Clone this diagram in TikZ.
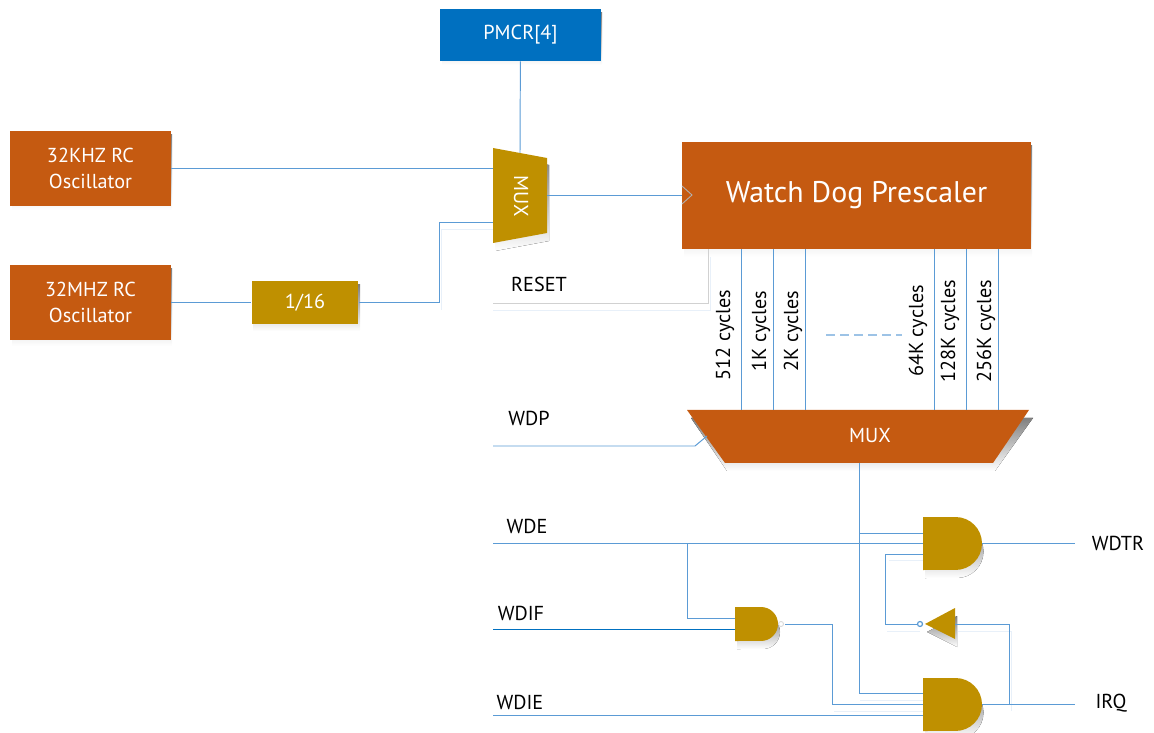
\documentclass[tikz,border=0pt]{standalone}
\usepackage{fontspec}
\setmainfont{PT Sans}
\definecolor{rust}{HTML}{C55A11}
\definecolor{gold}{HTML}{BF9000}
\definecolor{pmcrblue}{HTML}{0070C0}
\definecolor{wireblue}{HTML}{5B9BD5}
\definecolor{shade}{HTML}{DEEAF6}
\tikzset{
  orangebox/.style={fill=rust, text=white, align=center, inner sep=0pt, font=\fontsize{11.5}{15}\selectfont},
  wire/.style={wireblue, line width=0.55pt},
  greywire/.style={black!18, line width=0.55pt},
  faintwire/.style={shade!70, line width=0.55pt},
  label/.style={inner sep=0pt, font=\fontsize{11.5}{14}\selectfont},
  cycle label/.style={label, rotate=90},
}
\begin{document}
\begin{tikzpicture}[x=0.02cm, y=-0.02cm]
\useasboundingbox (0,0) rectangle (1154,733);
% shadows of the boxes
\fill[shade] (12,135) rectangle (172,210);
\fill[shade] (12,269) rectangle (172,346);
\fill[shade] (253,285) rectangle (360,331);
\fill[shade] (442,13) rectangle (602,65);
\fill[shade] (684,146) rectangle (1032,257);
\fill[shade] (495,155) -- (549,165) -- (549,241) -- (495,251) -- cycle;
\fill[shade] (691,418) -- (1033,418) -- (995,471) -- (727,471) -- cycle;
\fill[shade] (925,525) -- (957,525) arc[start angle=90, end angle=-90, radius=0.53cm] -- (925,578) -- cycle;
\fill[shade] (925,686) -- (957,686) arc[start angle=90, end angle=-90, radius=0.53cm] -- (925,739) -- cycle;
\fill[shade] (737,615) -- (763,615) arc[start angle=90, end angle=-90, radius=0.34cm] -- (737,649) -- cycle;
\fill[shade] (957,616) -- (957,647) -- (927,632) -- cycle;
% boxes
\node[orangebox, minimum width=3.22cm, minimum height=1.5cm] (osc32k) at (90.5,168.5) {32KHZ RC\\Oscillator};
\node[orangebox, minimum width=3.22cm, minimum height=1.5cm] (osc32m) at (90.5,302.5) {32MHZ RC\\Oscillator};
\node[orangebox, fill=gold, minimum width=2.14cm, minimum height=0.86cm] (div16) at (305,302.5) {1/16};
\node[orangebox, fill=pmcrblue, minimum width=3.22cm, minimum height=1.04cm] (pmcr) at (520.5,35) {PMCR[4]};
\node[orangebox, minimum width=6.98cm, minimum height=2.14cm, font=\fontsize{17}{20}\selectfont] (wdps) at (856.5,195.5) {Watch Dog Prescaler};
% clock mark on the prescaler
\draw[black!30, line width=0.5pt] (682,186) -- (692,195) -- (682,204);
% small mux
\fill[gold] (493,148) -- (547,158) -- (547,233) -- (493,243) -- cycle;
\node[label, text=white, rotate=-90] (muxclk) at (521,196) {MUX};
% big mux
\fill[rust] (687,410) -- (1029,410) -- (993,463) -- (725,463) -- cycle;
\node[label, text=white] (muxwdp) at (870,436) {MUX};
% gates
\fill[gold] (923,517) -- (955.5,517) arc[start angle=90, end angle=-90, radius=0.53cm] -- (923,570) -- cycle;
\fill[gold] (923,678) -- (955.5,678) arc[start angle=90, end angle=-90, radius=0.53cm] -- (923,731) -- cycle;
\fill[gold] (735,607) -- (761,607) arc[start angle=90, end angle=-90, radius=0.34cm] -- (735,641) -- cycle;
\fill[gold] (955,608) -- (955,639) -- (925,624) -- cycle;
% pins
\coordinate (muxtop) at (520,153);
\coordinate (muxa) at (493,168.5);
\coordinate (muxb) at (493,222);
\coordinate (muxout) at (547,195.5);
\coordinate (wdpin) at (707,436);
\coordinate (muxwdpout) at (859,463);
\coordinate (andta) at (923,533);
\coordinate (andtb) at (923,543.5);
\coordinate (andtc) at (923,554);
\coordinate (andtout) at (982,543.5);
\coordinate (andba) at (923,693);
\coordinate (andbb) at (923,704);
\coordinate (andbc) at (923,715);
\coordinate (andbout) at (982,704);
\coordinate (nanda) at (735,618);
\coordinate (nandb) at (735,629);
\coordinate (nandout) at (785,624);
\coordinate (invin) at (955,624);
\coordinate (invout) at (923,624);
\coordinate (resetl) at (493,303);
\coordinate (wdpl) at (493,446);
\coordinate (wdel) at (493,543.5);
\coordinate (wdifl) at (493,629);
\coordinate (wdiel) at (493,715);
\coordinate (wdtrr) at (1075,543.5);
\coordinate (irqr) at (1075,704);
% faint wire shadows
\draw[faintwire] (441,310) |- (493,229);
\draw[faintwire] (493,310) -- (710,310) -- (710,257);
\draw[faintwire] (889,560) -- (923,560);
\draw[faintwire] (887,631) -- (920,631);
\draw[faintwire] (958,631) -- (1011,631) -- (1011,711);
\draw[faintwire] (860,700) -- (923,700);
\draw[faintwire] (834,711) -- (923,711);
% wires
\draw[wire] (pmcr) -- (muxtop);
\draw[wire] (osc32k) -- (muxa);
\draw[wire] (osc32m) -- (div16);
\draw[wire] (div16) -- (439,302.5) |- (muxb);
\draw[wire] (muxout) -- (wdps.west |- muxout);
\draw[greywire] (resetl) -- (708,303) -- (wdps.south -| 708,0);
\foreach \x in {741,773,805,934,966,998}
  \draw[wire] (wdps.south -| \x,0) -- (\x,410);
\draw[wireblue!60, line width=0.6pt, dashed, dash pattern=on 5pt off 3pt] (826,335) -- (902,335);
\draw[wire] (wdpl) -- (695,446) -- (wdpin);
\draw[wire] (muxwdpout) |- (andba);
\draw[wire] (859,533) -- (andta);
\draw[wire] (wdel) -- (andtb);
\draw[wire] (687,543.5) |- (nanda);
\draw[pmcrblue, line width=0.55pt] (wdifl) -- (nandb);
\draw[wire] (nandout) -| (832,704) -- (andbb);
\draw[wire] (wdiel) -- (andbc);
\draw[wire] (andtout) -- (wdtrr);
\draw[wire] (andbout) -- (irqr);
\draw[wire] (1009,704) |- (invin);
\draw[wire] (invout) -| (885,554) -- (andtc);
% bubbles
\node[circle, draw=wireblue, fill=white, line width=0.7pt, inner sep=0pt, minimum size=0.1cm] (invbub) at (920,624) {};
\node[circle, draw=black!15, fill=white, line width=0.5pt, inner sep=0pt, minimum size=0.1cm] (nandbub) at (781,624) {};
% labels
\node[label] (reset) at (539,284) {RESET};
\node[label] (wdp) at (529,418) {WDP};
\node[label] (wde) at (527,526) {WDE};
\node[label] (wdif) at (521,613) {WDIF};
\node[label] (wdie) at (520,702) {WDIE};
\node[label] (wdtr) at (1118,543) {WDTR};
\node[label] (irq) at (1111,703) {IRQ};
\node[cycle label] (c512) at (725,335) {512 cycles};
\node[cycle label] (c1k) at (761,331) {1K cycles};
\node[cycle label] (c2k) at (793,331) {2K cycles};
\node[cycle label] (c64k) at (918,331) {64K cycles};
\node[cycle label] (c128k) at (950,331) {128K cycles};
\node[cycle label] (c256k) at (986,331) {256K cycles};
\end{tikzpicture}
\end{document}
